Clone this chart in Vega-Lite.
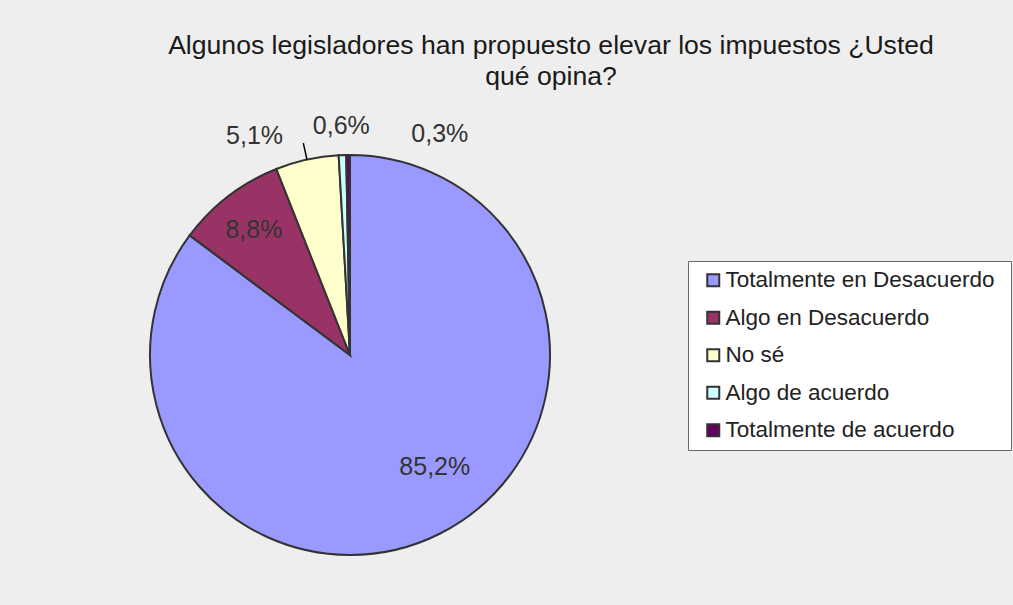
{
  "$schema": "https://vega.github.io/schema/vega-lite/v6.json",
  "width": 700,
  "height": 710,
  "autosize": {"type": "none"},
  "padding": {"left": 0, "top": 0, "right": 313, "bottom": 0},
  "background": "#eeeeee",
  "title": {
    "text": ["Algunos legisladores han propuesto elevar los impuestos ¿Usted", "qué opina?"],
    "anchor": "middle",
    "frame": "group",
    "orient": "top",
    "baseline": "top",
    "offset": -91,
    "dx": 201,
    "fontSize": 26.6,
    "font": "Liberation Sans",
    "fontWeight": "normal",
    "color": "#1a1a1a",
    "lineHeight": 31
  },
  "data": {
    "values": [
      {"respuesta": "Totalmente en Desacuerdo", "pct": 85.2, "etiqueta": "85,2%", "orden": 1},
      {"respuesta": "Algo en Desacuerdo", "pct": 8.8, "etiqueta": "8,8%", "orden": 2},
      {"respuesta": "No sé", "pct": 5.1, "etiqueta": "5,1%", "orden": 3},
      {"respuesta": "Algo de acuerdo", "pct": 0.6, "etiqueta": "0,6%", "orden": 4},
      {"respuesta": "Totalmente de acuerdo", "pct": 0.3, "etiqueta": "0,3%", "orden": 5}
    ]
  },
  "encoding": {
    "theta": {"field": "pct", "type": "quantitative", "stack": true},
    "order": {"field": "orden", "type": "quantitative"}
  },
  "layer": [
    {
      "mark": {"type": "arc", "outerRadius": 200, "stroke": "#333333", "strokeWidth": 2},
      "encoding": {
        "color": {
          "field": "respuesta",
          "type": "nominal",
          "scale": {
            "domain": ["Totalmente en Desacuerdo", "Algo en Desacuerdo", "No sé", "Algo de acuerdo", "Totalmente de acuerdo"],
            "range": ["#9999FF", "#993366", "#FFFFCC", "#CCFFFF", "#660066"]
          },
          "legend": {
            "orient": "none",
            "legendX": 688,
            "legendY": 261,
            "title": " ",
            "titleOrient": "right",
            "titleFontSize": 1,
            "titlePadding": 9,
            "strokeColor": "#666666",
            "fillColor": "#ffffff",
            "padding": 8,
            "symbolType": "square",
            "symbolSize": 144,
            "symbolStrokeColor": "#333333",
            "symbolStrokeWidth": 2,
            "symbolOffset": 6,
            "labelOffset": 1,
            "labelFontSize": 22.5,
            "labelFont": "Liberation Sans",
            "labelColor": "#222222",
            "labelLimit": 400,
            "rowPadding": 14.5
          }
        }
      }
    },
    {
      "mark": {"type": "arc", "outerRadius": 217, "innerRadius": 200, "padAngle": 3.1, "filled": false, "stroke": "#000000", "strokeWidth": 1.5},
      "encoding": {
        "strokeOpacity": {"condition": {"test": "datum.respuesta === 'No sé'", "value": 1}, "value": 0}
      }
    },
    {
      "mark": {"type": "text", "radius": 158, "fontSize": 25, "font": "Liberation Sans", "color": "#333333", "align": "center", "baseline": "middle"},
      "encoding": {
        "text": {"condition": {"test": "datum.respuesta === 'Algo en Desacuerdo'", "field": "etiqueta"}, "value": ""}
      }
    },
    {
      "mark": {"type": "text", "radius": 140, "dx": 22, "dy": -13, "fontSize": 25, "font": "Liberation Sans", "color": "#333333", "align": "center", "baseline": "middle"},
      "encoding": {
        "text": {"condition": {"test": "datum.respuesta === 'Totalmente en Desacuerdo'", "field": "etiqueta"}, "value": ""}
      }
    },
    {
      "mark": {"type": "text", "radius": 230, "dx": -46, "dy": 6, "fontSize": 25, "font": "Liberation Sans", "color": "#333333", "align": "center", "baseline": "middle"},
      "encoding": {
        "text": {"condition": {"test": "datum.respuesta === 'No sé'", "field": "etiqueta"}, "value": ""}
      }
    },
    {
      "mark": {"type": "text", "radius": 230, "dx": 0, "dy": 1, "fontSize": 25, "font": "Liberation Sans", "color": "#333333", "align": "center", "baseline": "middle"},
      "encoding": {
        "text": {"condition": {"test": "datum.respuesta === 'Algo de acuerdo'", "field": "etiqueta"}, "value": ""}
      }
    },
    {
      "mark": {"type": "text", "radius": 230, "dx": 92, "dy": 9, "fontSize": 25, "font": "Liberation Sans", "color": "#333333", "align": "center", "baseline": "middle"},
      "encoding": {
        "text": {"condition": {"test": "datum.respuesta === 'Totalmente de acuerdo'", "field": "etiqueta"}, "value": ""}
      }
    }
  ],
  "config": {"view": {"stroke": null}}
}
